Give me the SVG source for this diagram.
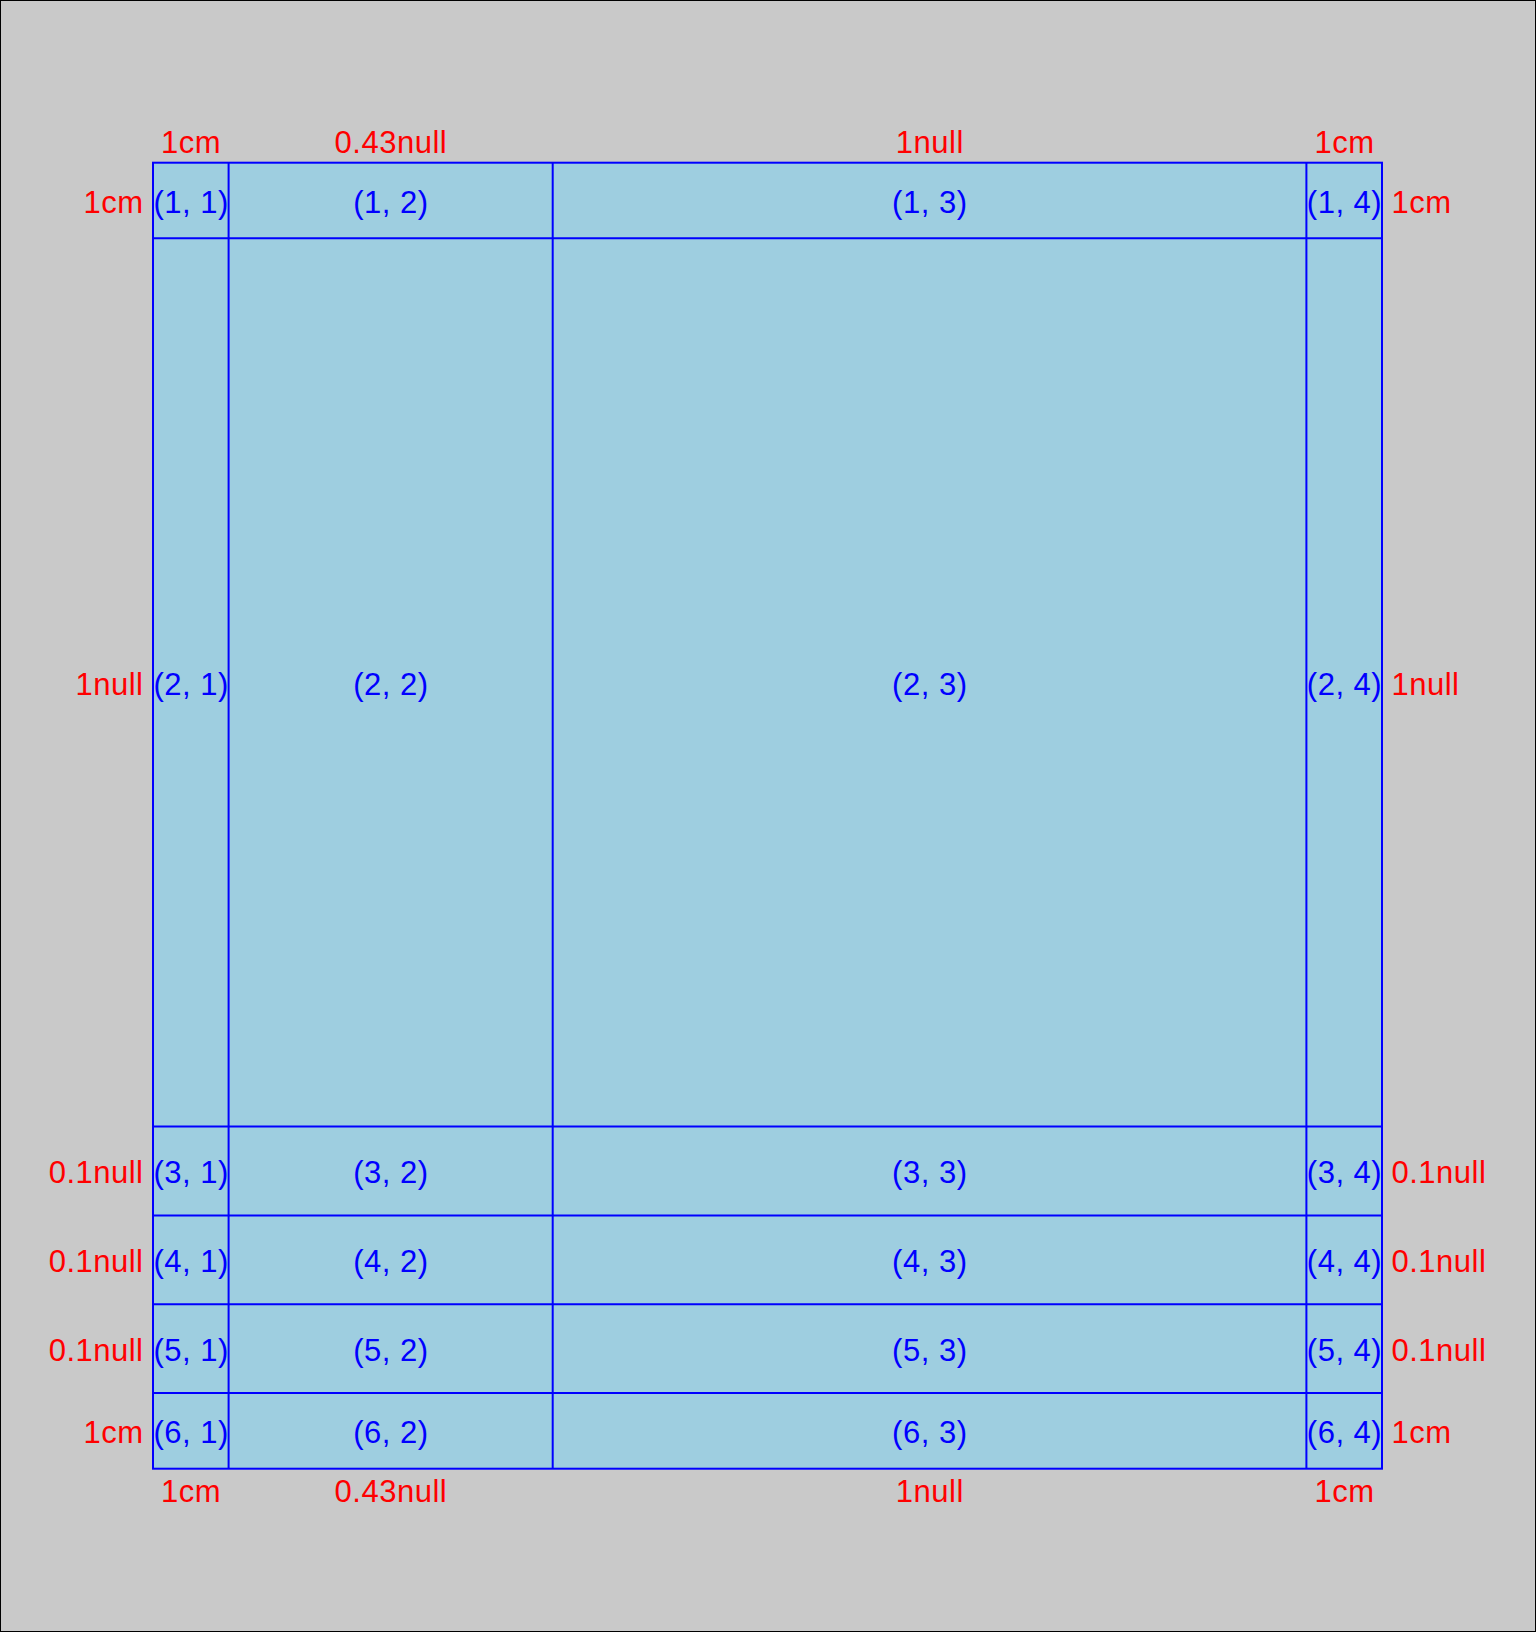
<svg xmlns="http://www.w3.org/2000/svg" width="1536" height="1632" viewBox="0 0 1536 1632">
<style>
.cell{fill:#9ecee0;stroke:#0000ff;stroke-width:2}
.ln{stroke:#0000ff;stroke-width:2}
.lbl{font-family:"Liberation Sans",Arial,sans-serif;font-size:31px;letter-spacing:0.5px;fill:#0000ff;text-anchor:middle}
.sz{font-family:"Liberation Sans",Arial,sans-serif;font-size:31px;letter-spacing:0.5px;fill:#ff0000}
.c{text-anchor:middle}
.e{text-anchor:end}
.s{text-anchor:start}
</style>
<rect x="0.5" y="0.5" width="1535" height="1631" fill="#c9c9c9" stroke="#000" stroke-width="1"/>
<g id="grid">
<rect class="cell" x="153" y="162.7" width="1229" height="1306"/>
<g id="connectors">
<line class="ln" x1="228.6" y1="162.7" x2="228.6" y2="1468.7"/>
<line class="ln" x1="552.7" y1="162.7" x2="552.7" y2="1468.7"/>
<line class="ln" x1="1306.4" y1="162.7" x2="1306.4" y2="1468.7"/>
<line class="ln" x1="153" y1="238.3" x2="1382" y2="238.3"/>
<line class="ln" x1="153" y1="1126.6" x2="1382" y2="1126.6"/>
<line class="ln" x1="153" y1="1215.4" x2="1382" y2="1215.4"/>
<line class="ln" x1="153" y1="1304.2" x2="1382" y2="1304.2"/>
<line class="ln" x1="153" y1="1393.1" x2="1382" y2="1393.1"/>
</g>
</g>
<g id="cells">
<text class="lbl" x="191.1" y="212.7">(1, 1)</text>
<text class="lbl" x="390.9" y="212.7">(1, 2)</text>
<text class="lbl" x="929.8" y="212.7">(1, 3)</text>
<text class="lbl" x="1344.5" y="212.7">(1, 4)</text>
<text class="lbl" x="191.1" y="694.6">(2, 1)</text>
<text class="lbl" x="390.9" y="694.6">(2, 2)</text>
<text class="lbl" x="929.8" y="694.6">(2, 3)</text>
<text class="lbl" x="1344.5" y="694.6">(2, 4)</text>
<text class="lbl" x="191.1" y="1183.2">(3, 1)</text>
<text class="lbl" x="390.9" y="1183.2">(3, 2)</text>
<text class="lbl" x="929.8" y="1183.2">(3, 3)</text>
<text class="lbl" x="1344.5" y="1183.2">(3, 4)</text>
<text class="lbl" x="191.1" y="1272">(4, 1)</text>
<text class="lbl" x="390.9" y="1272">(4, 2)</text>
<text class="lbl" x="929.8" y="1272">(4, 3)</text>
<text class="lbl" x="1344.5" y="1272">(4, 4)</text>
<text class="lbl" x="191.1" y="1360.8">(5, 1)</text>
<text class="lbl" x="390.9" y="1360.8">(5, 2)</text>
<text class="lbl" x="929.8" y="1360.8">(5, 3)</text>
<text class="lbl" x="1344.5" y="1360.8">(5, 4)</text>
<text class="lbl" x="191.1" y="1443.1">(6, 1)</text>
<text class="lbl" x="390.9" y="1443.1">(6, 2)</text>
<text class="lbl" x="929.8" y="1443.1">(6, 3)</text>
<text class="lbl" x="1344.5" y="1443.1">(6, 4)</text>
</g>
<g id="sizes">
<text class="sz c" x="191.1" y="153.3">1cm</text>
<text class="sz c" x="390.9" y="153.3">0.43null</text>
<text class="sz c" x="929.8" y="153.3">1null</text>
<text class="sz c" x="1344.5" y="153.3">1cm</text>
<text class="sz c" x="191.1" y="1501.5">1cm</text>
<text class="sz c" x="390.9" y="1501.5">0.43null</text>
<text class="sz c" x="929.8" y="1501.5">1null</text>
<text class="sz c" x="1344.5" y="1501.5">1cm</text>
<text class="sz e" x="143.5" y="212.7">1cm</text>
<text class="sz e" x="143.5" y="694.6">1null</text>
<text class="sz e" x="143.5" y="1183.2">0.1null</text>
<text class="sz e" x="143.5" y="1272">0.1null</text>
<text class="sz e" x="143.5" y="1360.8">0.1null</text>
<text class="sz e" x="143.5" y="1443.1">1cm</text>
<text class="sz s" x="1391.5" y="212.7">1cm</text>
<text class="sz s" x="1391.5" y="694.6">1null</text>
<text class="sz s" x="1391.5" y="1183.2">0.1null</text>
<text class="sz s" x="1391.5" y="1272">0.1null</text>
<text class="sz s" x="1391.5" y="1360.8">0.1null</text>
<text class="sz s" x="1391.5" y="1443.1">1cm</text>
</g>
</svg>
